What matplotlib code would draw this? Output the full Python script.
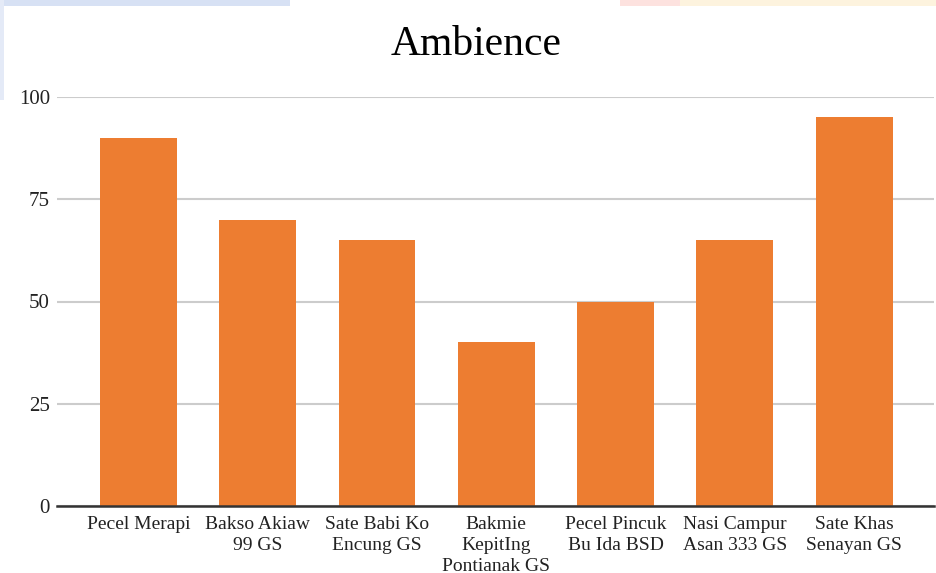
import matplotlib
matplotlib.use("Agg")
import matplotlib.pyplot as plt
from matplotlib.patches import Rectangle
import numpy as np

categories = ["Pecel Merapi", "Bakso Akiaw\n99 GS", "Sate Babi Ko\nEncung GS",
              "Bakmie\nKepitIng\nPontianak GS", "Pecel Pincuk\nBu Ida BSD",
              "Nasi Campur\nAsan 333 GS", "Sate Khas\nSenayan GS"]
values = [90, 70, 65, 40, 50, 65, 95]
yticks = [0, 25, 50, 75, 100]
title = "Ambience"

plt.rcParams['font.family'] = ['Liberation Serif', 'DejaVu Serif']

fig = plt.figure(figsize=(9.36, 5.73), dpi=100)
fig.patch.set_facecolor('white')

# screenshot edge artifacts
fig.patches.append(Rectangle((0, 1 - 6/573), 290/936, 6/573, transform=fig.transFigure,
                             facecolor='#d7e1f4', edgecolor='none', zorder=0))
fig.patches.append(Rectangle((0, 1 - 100/573), 4/936, 100/573, transform=fig.transFigure,
                             facecolor='#e4eaf7', edgecolor='none', zorder=0))
fig.patches.append(Rectangle((620/936, 1 - 6/573), 60/936, 6/573, transform=fig.transFigure,
                             facecolor='#fde2df', edgecolor='none', zorder=0))
fig.patches.append(Rectangle((680/936, 1 - 6/573), 256/936, 6/573, transform=fig.transFigure,
                             facecolor='#fdf3de', edgecolor='none', zorder=0))

ax = fig.add_axes([57/936, 1 - 506/573, (934 - 57)/936, (506 - 97)/573])
x = np.arange(len(categories))
ax.bar(x, values, width=0.645, color='#ED7D31', zorder=3)
ax.set_xlim(-0.683, len(categories) - 1 + 0.67)
ax.set_ylim(0, 100)
ax.set_yticks(yticks)
ax.set_yticklabels([str(t) for t in yticks], fontsize=15, color='#222222')
ax.set_xticks(x)
ax.set_xticklabels(categories, fontsize=14, color='#222222', linespacing=1.3)
ax.tick_params(axis='both', length=0)
ax.tick_params(axis='y', pad=5)
ax.tick_params(axis='x', pad=7)
ax.grid(axis='y', color='#cccccc', linewidth=1.5, zorder=0)
for s in ['top', 'right', 'left']:
    ax.spines[s].set_visible(False)
ax.spines['bottom'].set_color('#333333')
ax.spines['bottom'].set_linewidth(1.8)
ax.spines['bottom'].set_zorder(4)

fig.text(476/936, 1 - 45/573, title, ha='center', va='center', fontsize=30, color='black')

fig.savefig('out.png', dpi=100)
